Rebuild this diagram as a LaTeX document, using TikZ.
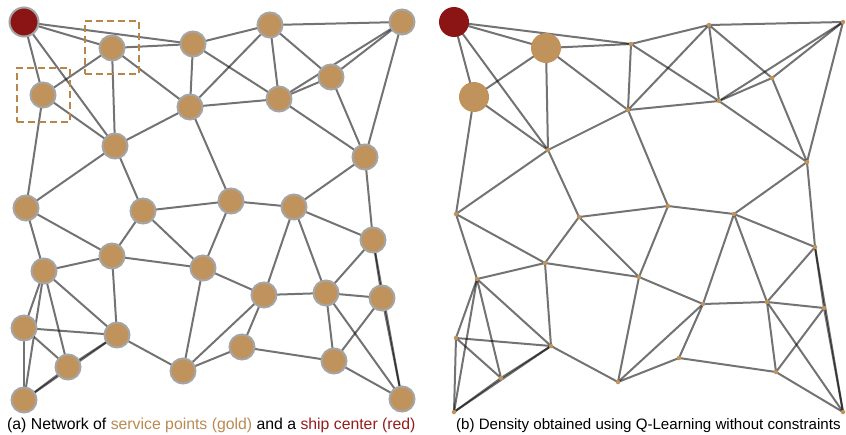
\documentclass[tikz,border=0pt]{standalone}
\usepackage{fontspec}
\setmainfont{Liberation Sans}
\usetikzlibrary{backgrounds}
\definecolor{goldfill}{RGB}{192,147,92}
\definecolor{bordergray}{RGB}{165,165,165}
\definecolor{shipred}{RGB}{139,21,21}
\definecolor{boxgold}{RGB}{184,134,75}
\definecolor{capgold}{RGB}{184,138,82}
\definecolor{capred}{RGB}{150,28,28}
\tikzset{
  edge/.style={draw=black, draw opacity=0.55, line width=2pt},
  gnode/.style={circle, fill=goldfill, draw=bordergray, line width=2pt, minimum size=25pt, inner sep=0pt},
  rnode/.style={circle, fill=shipred, draw=bordergray, line width=2pt, minimum size=29pt, inner sep=0pt},
  tinydot/.style={circle, fill=goldfill, inner sep=0pt, minimum size=4.5pt},
  biggold/.style={circle, fill=goldfill, inner sep=0pt, minimum size=30pt},
  bigred/.style={circle, fill=shipred, inner sep=0pt, minimum size=30pt},
  selbox/.style={rectangle, draw=boxgold, line width=2pt, dash pattern=on 7pt off 4pt, inner sep=0pt},
  caption/.style={anchor=base west, inner sep=0pt}
}
\begin{document}
\begin{tikzpicture}[x=1pt, y=-1pt]
\useasboundingbox (0,0) rectangle (846,434);
% left panel nodes
\node[rnode] (lR) at (24,22) {};
\foreach \n/\x/\y in {A/112/48, B/43/95, C/193/44, D/190/107, E/115/146, F/26/208, G/143/211,
  H/270/25, I/402/22, J/331/77, K/279/99, L/365/157, M/231/201, N/294/207, O/112/256,
  P/44/271, Q/203/268, S/24/328, T/117/335, U/68/367, V/183/371, W/24/400, X/373/240,
  Y/264/295, Z/326/293, AA/382/298, BB/242/347, CC/334/361, DD/402/399}
  {\node[gnode] (l\n) at (\x,\y) {};}
% right panel nodes
\node[bigred] (rR) at (454,22) {};
\node[biggold] (rA) at (546,48) {};
\node[biggold] (rB) at (474,97) {};
\foreach \n/\x/\y in {C/631/44, D/628/110, E/548/150, F/456/214, G/579/217,
  H/709/25, I/843/22, J/772/78, K/719/101, L/807/162, M/668/206, N/734/214, O/545/263,
  P/477/279, Q/639/277, S/456/338, T/551/346, U/501/378, V/618/382, W/454/412, X/815/247,
  Y/703/304, Z/767/302, AA/824/308, BB/679/358, CC/776/372, DD/843/412}
  {\node[tinydot] (r\n) at (\x,\y) {};}
% edges
\begin{scope}[on background layer]
\foreach \a/\b in {R/C, R/A, R/B, R/E, A/C, A/B, A/E, A/D, B/E, B/F, E/D, E/F, E/G,
  C/D, C/H, C/K, D/K, D/H, D/M, G/M, G/O, G/Q, H/I, H/K, H/J, K/J, K/I, J/I,
  J/L, I/L, K/L, L/N, L/X, M/N, M/Q, N/X, N/Y, N/Z, F/O, F/P, O/P, O/Q, O/T,
  P/S, P/U, P/T, P/W, S/T, S/U, S/W, W/U, U/T, W/T, T/V, Q/V, Q/Y, V/Y, V/BB,
  Y/Z, Y/BB, BB/CC, Z/X, Z/AA, Z/CC, Z/DD, AA/CC, CC/DD, X/AA, AA/DD, X/DD}
  {\draw[edge] (l\a.center) -- (l\b.center);
   \draw[edge] (r\a.center) -- (r\b.center);}
\end{scope}
% selection boxes
\node[selbox, minimum width=54pt, minimum height=53pt] (boxA) at (112,47.5) {};
\node[selbox, minimum width=53pt, minimum height=54pt] (boxB) at (43.5,95) {};
% captions
\node[caption, font=\fontsize{15.8}{18}\selectfont] (capa) at (7,429) {(a) Network of \textcolor{capgold}{service points (gold)} and a \textcolor{capred}{ship center (red)}};
\node[caption, font=\fontsize{15.1}{18}\selectfont] (capb) at (456,429) {(b) Density obtained using Q-Learning without constraints};
\end{tikzpicture}
\end{document}
